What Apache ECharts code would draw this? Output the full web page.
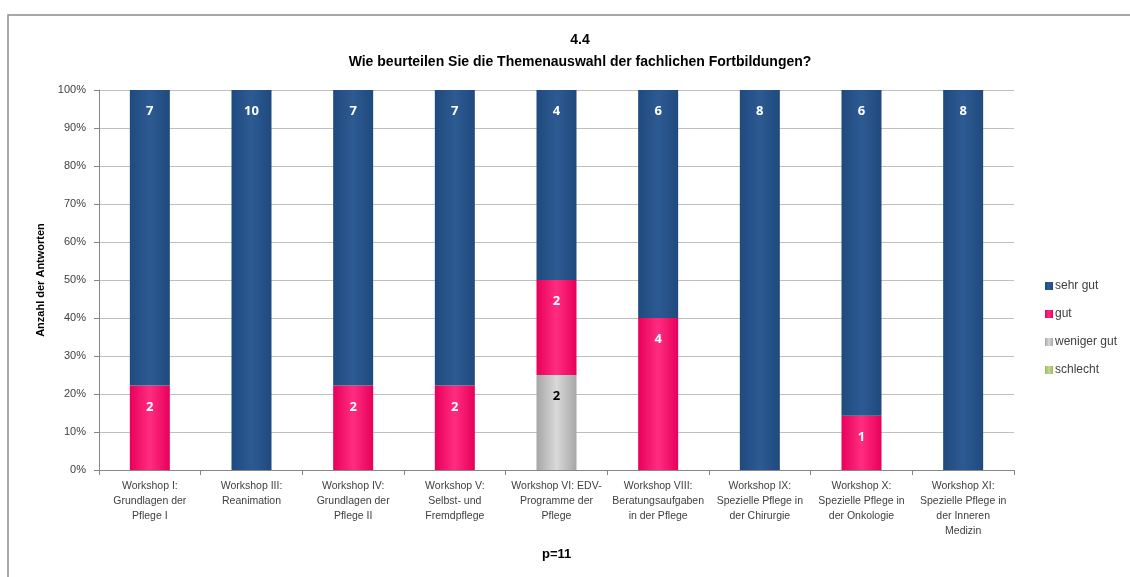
<!DOCTYPE html>
<html>
<head>
<meta charset="utf-8">
<script src="https://cdn.jsdelivr.net/npm/echarts@6/dist/echarts.min.js"></script>
<style>
  html, body { margin: 0; padding: 0; background: #fff; }
  #chart { width: 1130px; height: 577px; }
</style>
</head>
<body>
<div id="chart"></div>
<script>
(function () {

	// Workshops (x-Achse)
	var categories = [
		"Workshop I:\nGrundlagen der\nPflege I",
		"Workshop III:\nReanimation",
		"Workshop IV:\nGrundlagen der\nPflege II",
		"Workshop V:\nSelbst- und\nFremdpflege",
		"Workshop VI: EDV-\nProgramme der\nPflege",
		"Workshop VIII:\nBeratungsaufgaben\nin der Pflege",
		"Workshop IX:\nSpezielle Pflege in\nder Chirurgie",
		"Workshop X:\nSpezielle Pflege in\nder Onkologie",
		"Workshop XI:\nSpezielle Pflege in\nder Inneren\nMedizin"
	];

	// Anzahl der Antworten je Bewertung
	var sehrGut    = [7, 10, 7, 7, 4, 6, 8, 6, 8];
	var gut        = [2, 0, 2, 2, 2, 4, 0, 1, 0];
	var wenigerGut = [0, 0, 0, 0, 2, 0, 0, 0, 0];
	var schlecht   = [0, 0, 0, 0, 0, 0, 0, 0, 0];

	var yTicks = [0, 10, 20, 30, 40, 50, 60, 70, 80, 90, 100];

	var totals = categories.map(function (c, i) {
		return sehrGut[i] + gut[i] + wenigerGut[i] + schlecht[i];
	});

	// Anteile in Prozent, Label zeigt die Anzahl
	function toShare(counts) {
		return counts.map(function (n, i) {
			return { value: totals[i] ? n / totals[i] * 100 : 0, count: n };
		});
	}

	function barGradient(dark, mid) {
		return new echarts.graphic.LinearGradient(0, 0, 1, 0, [
			{ offset: 0, color: dark },
			{ offset: 0.5, color: mid },
			{ offset: 1, color: dark }
		]);
	}

	function makeSeries(name, counts, dark, mid, labelColor) {
		return {
			name: name,
			type: 'bar',
			stack: 'total',
			barWidth: 40,
			data: toShare(counts),
			itemStyle: {
				color: barGradient(dark, mid),
				borderWidth: 0
			},
			label: {
				show: true,
				position: 'insideTop',
				distance: 15,
				color: labelColor,
				fontSize: 13,
				fontWeight: 'bold',
				fontFamily: 'Open Sans',
				formatter: function (p) {
					return p.data.count ? String(p.data.count) : '';
				}
			}
		};
	}

	var option = {
		backgroundColor: '#fff',
		animation: false,
		textStyle: { fontFamily: 'Liberation Sans' },
		title: {
			text: '4.4\nWie beurteilen Sie die Themenauswahl der fachlichen Fortbildungen?',
			left: 575,
			top: 24,
			textAlign: 'center',
			textStyle: {
				fontSize: 14,
				fontWeight: 'bold',
				color: '#000',
				lineHeight: 22,
				fontFamily: 'Liberation Sans'
			}
		},
		legend: {
			orient: 'vertical',
			left: 1040,
			top: 275,
			itemWidth: 8,
			itemHeight: 8,
			itemGap: 16,
			icon: 'rect',
			textStyle: { fontSize: 12, color: '#404040', padding: [0, 0, 0, -3] },
			data: ['sehr gut', 'gut', 'weniger gut', 'schlecht']
		},
		grid: {
			left: 99,
			right: 116,
			top: 90,
			bottom: 107,
			containLabel: false
		},
		xAxis: {
			type: 'category',
			data: categories,
			axisLine: { lineStyle: { color: '#868686' } },
			axisTick: { show: true, alignWithLabel: false, length: 5, lineStyle: { color: '#868686' } },
			axisLabel: {
				interval: 0,
				fontSize: 10.5,
				color: '#404040',
				lineHeight: 15.3,
				margin: 8
			}
		},
		yAxis: {
			type: 'value',
			min: 0,
			max: 100,
			interval: 10,
			name: 'Anzahl der Antworten',
			nameLocation: 'middle',
			nameGap: 52,
			nameTextStyle: { fontSize: 11, fontWeight: 'bold', color: '#000' },
			axisLine: { show: true, lineStyle: { color: '#868686' } },
			axisTick: { show: true, length: 5, lineStyle: { color: '#868686' } },
			axisLabel: {
				fontSize: 11,
				color: '#404040',
				margin: 13,
				formatter: function (v) { return yTicks.indexOf(v) >= 0 ? v + '%' : ''; }
			},
			splitLine: { lineStyle: { color: '#bfbfbf' } }
		},
		graphic: [
			{
				type: 'polyline',
				shape: { points: [[8, 577], [8, 15], [1130, 15]] },
				style: { fill: 'none', stroke: '#8c8c8c', lineWidth: 1.5 },
				silent: true
			},
			{
				type: 'text',
				left: 542,
				top: 548,
				style: { text: 'p=11', fontSize: 13, fontWeight: 'bold', fill: '#000', fontFamily: 'Liberation Sans' }
			}
		],
		series: [
			makeSeries('schlecht', schlecht, '#9bbb59', '#c3d69b', '#000'),
			makeSeries('weniger gut', wenigerGut, '#a6a6a6', '#d9d9d9', '#000'),
			makeSeries('gut', gut, '#e8005a', '#ff2d7f', '#fff'),
			makeSeries('sehr gut', sehrGut, '#1f4a7e', '#2c5a92', '#fff')
		]
	};

	var chart = echarts.init(document.getElementById('chart'));
	chart.setOption(option);

})();
</script>
</body>
</html>
